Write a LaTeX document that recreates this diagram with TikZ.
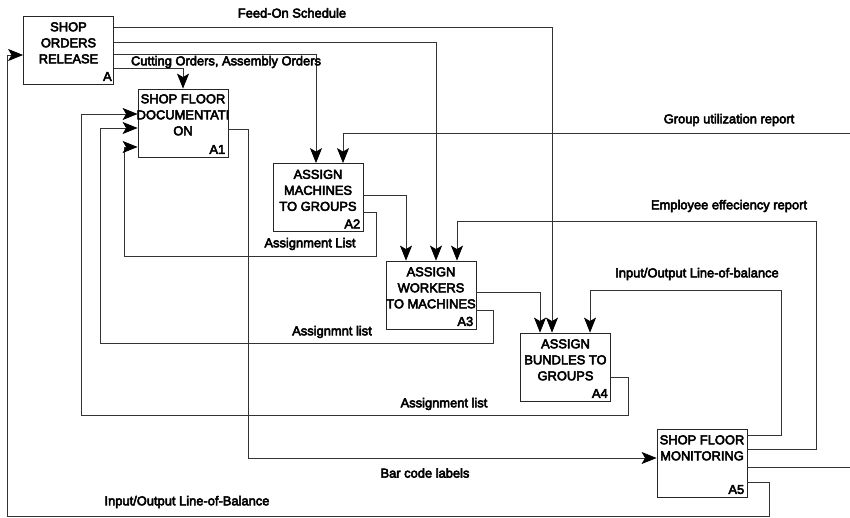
\documentclass[tikz,border=0pt]{standalone}
\usepackage{fontspec}
\setmainfont{Liberation Sans}[RawFeature={embolden=4}]
\usetikzlibrary{arrows.meta}

\tikzset{
  box/.style={draw=black!85, line width=0.8pt, minimum width=90pt, minimum height=68pt, inner sep=0pt},
  ttl/.style={anchor=north, align=center, inner sep=0pt, font=\fontsize{12.9}{16}\selectfont},
  code/.style={anchor=base east, inner sep=0pt, font=\fontsize{12.9}{16}\selectfont},
  lbl/.style={inner sep=0pt, font=\fontsize{12.9}{16}\selectfont},
  flow/.style={draw=black!80, line width=0.7pt, -{Stealth[length=15pt, width=12pt, inset=3.5pt, color=black, fill=black]}},
  wire/.style={draw=black!80, line width=0.7pt}
}

\begin{document}
\begin{tikzpicture}[x=1pt, y=-1pt]
\useasboundingbox (0,0) rectangle (850,518);

% activity boxes
\node[box] (A)  at (68.5,50)  {};
\node[box] (A1) at (183,123)  {};
\node[box] (A2) at (318,197.5){};
\node[box] (A3) at (431,295)  {};
\node[box] (A4) at (565.5,367){};
\node[box] (A5) at (702,463)  {};

% box titles and codes
\node[ttl] (tA)  at ([yshift=-6.5pt]A.north)  {SHOP\\ORDERS\\RELEASE};
\node[ttl] (tA1) at ([yshift=-5.5pt]A1.north) {SHOP FLOOR\\DOCUMENTATI\\ON};
\node[ttl] (tA2) at ([yshift=-6.5pt]A2.north) {ASSIGN\\MACHINES\\TO GROUPS};
\node[ttl] (tA3) at ([yshift=-6.5pt]A3.north) {ASSIGN\\WORKERS\\TO MACHINES};
\node[ttl] (tA4) at ([yshift=-6.5pt]A4.north) {ASSIGN\\BUNDLES TO\\GROUPS};
\node[ttl] (tA5) at ([yshift=-6.5pt]A5.north) {SHOP FLOOR\\MONITORING};

\node[code] (cA)  at ([xshift=-2pt,yshift=3.5pt]A.south east)  {A};
\node[code] (cA1) at ([xshift=-3pt,yshift=3.5pt]A1.south east) {A1};
\node[code] (cA2) at ([xshift=-3pt,yshift=3.5pt]A2.south east) {A2};
\node[code] (cA3) at ([xshift=-3pt,yshift=3.5pt]A3.south east) {A3};
\node[code] (cA4) at ([xshift=-3pt,yshift=3.5pt]A4.south east) {A4};
\node[code] (cA5) at ([xshift=-3pt,yshift=3.5pt]A5.south east) {A5};

% free ends at the border
\coordinate (gur)  at (850,133);
\coordinate (outr) at (850,467);

% controls and inputs from the release activity
\draw[flow] (A.east |- 0,27) -| (A4.north -| 552,0);
\draw[flow] (A.east |- 0,42) -| (A3.north -| 436,0);
\draw[flow] (A.east |- 0,54) -| (A2.north -| 316,0);
\draw[flow] (A.east |- 0,68) -| (A1.north);

% group utilization report
\draw[flow] (gur) -| (A2.north -| 343,0);

% A2 outputs
\draw[flow] (A2.east |- 0,195) -| (A3.north -| 406,0);
\draw[flow] (A2.east |- 0,212) -| (376,256) -| (124,147) -- (A1.west |- 0,147);

% A3 outputs
\draw[flow] (A3.east |- 0,292) -| (A4.north -| 540,0);
\draw[flow] (A3.east |- 0,310) -| (493,343) -| (100,128) -- (A1.west |- 0,128);

% A4 output
\draw[flow] (A4.east |- 0,377) -| (628,415) -| (81,114) -- (A1.west |- 0,114);

% bar code labels
\draw[flow] (A1.east |- 0,129) -| (248,458) -- (A5.west |- 0,458);

% feedback from monitoring
\draw[flow] (A5.east |- 0,449) -| (816,221) -| (A3.north -| 457,0);
\draw[flow] (A5.east |- 0,435) -| (781,290) -| (A4.north -| 590,0);
\draw[wire] (A5.east |- 0,467) -- (outr);
\draw[flow] (A5.east |- 0,482) -| (769,516) -| (7,55) -- (A.west |- 0,55);

% arrow labels
\node[lbl] (l1)  at (292,13)  {Feed-On Schedule};
\node[lbl] (l2)  at (226,62)  {Cutting Orders, Assembly Orders};
\node[lbl] (l3)  at (729,120) {Group utilization report};
\node[lbl] (l4)  at (310,244) {Assignment List};
\node[lbl] (l5)  at (729,206) {Employee effeciency report};
\node[lbl] (l6)  at (697,274) {Input/Output Line-of-balance};
\node[lbl] (l7)  at (332,332) {Assignmnt list};
\node[lbl] (l8)  at (444,404) {Assignment list};
\node[lbl] (l9)  at (425,473) {Bar code labels};
\node[lbl] (l10) at (187,502) {Input/Output Line-of-Balance};
\end{tikzpicture}
\end{document}
